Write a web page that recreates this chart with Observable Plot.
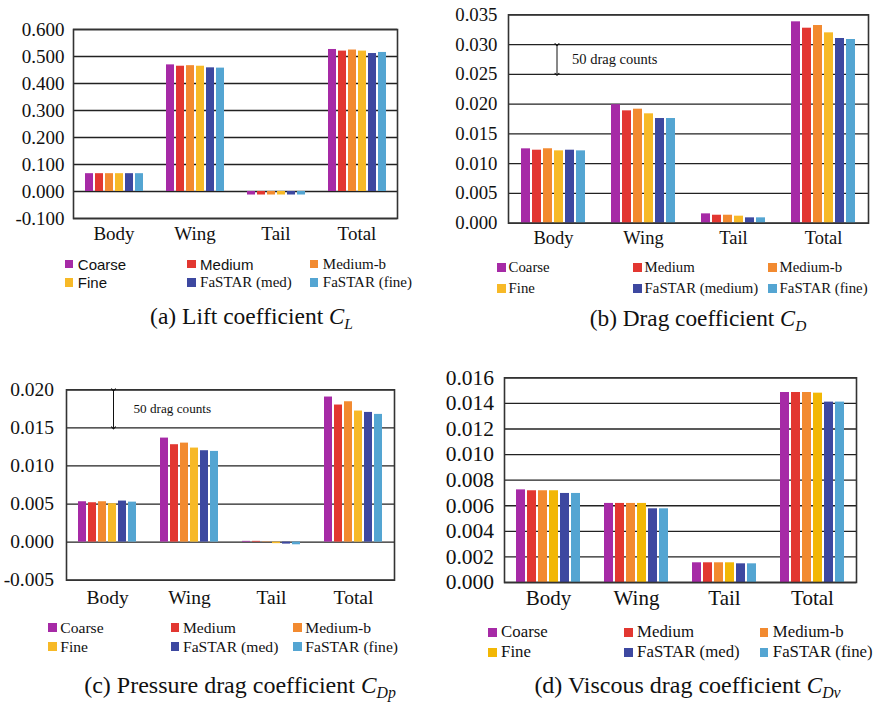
<!DOCTYPE html>
<html>
<head>
<meta charset="utf-8">
<script src="https://cdn.jsdelivr.net/npm/d3@7"></script>
<script src="https://cdn.jsdelivr.net/npm/@observablehq/plot@0.6"></script>
<style>
  html, body { margin: 0; padding: 0; background: #fff; }
  #root { position: relative; width: 880px; height: 703px; overflow: hidden; background: #fff; }
  .pnl { position: absolute; }
  .leg { position: absolute; display: flex; align-items: center; line-height: 1; white-space: nowrap; color: #111; }
  .sw { display: inline-block; width: 8.3px; height: 8.3px; flex: none; }
  .cap { position: absolute; line-height: 1; white-space: nowrap; color: #111; transform: translateX(-50%); }
  .cap i { font-style: italic; font-size: 0.97em; }
  .cap sub { font-size: 0.68em; vertical-align: -0.32em; line-height: 0; }
</style>
</head>
<body>
<div id="root"></div>
<script>
// ---------------- data ----------------
const categories = ["Body", "Wing", "Tail", "Total"];
const series = ["Coarse", "Medium", "Medium-b", "Fine", "FaSTAR (med)", "FaSTAR (fine)"];
const legendLabels = ["Coarse", "Medium", "Medium-b", "Fine", "FaSTAR (med)", "FaSTAR (fine)"];
const legendLabelsB = ["Coarse", "Medium", "Medium-b", "Fine", "FaSTAR (medium)", "FaSTAR (fine)"];
const seriesColors = ["#a62aa6", "#e23731", "#f28a30", "#f7b927", "#3d48a0", "#54a5d2"];
const seriesColorsD = ["#a62aa6", "#e23731", "#f28a30", "#f2b705", "#3d48a0", "#54a5d2"];

// rows: Body, Wing, Tail, Total ; columns: series order
const liftCL = [
  [0.066, 0.066, 0.066, 0.066, 0.066, 0.066],
  [0.469, 0.464, 0.466, 0.464, 0.458, 0.457],
  [-0.013, -0.013, -0.013, -0.013, -0.013, -0.013],
  [0.526, 0.520, 0.524, 0.520, 0.511, 0.515]
];
const dragCD = [
  [0.01249, 0.01226, 0.01250, 0.01215, 0.01226, 0.01215],
  [0.01990, 0.01887, 0.01915, 0.01837, 0.01758, 0.01758],
  [0.00157, 0.00134, 0.00134, 0.00118, 0.00090, 0.00090],
  [0.03382, 0.03275, 0.03320, 0.03197, 0.03102, 0.03085]
];
const pressureCDp = [
  [0.00530, 0.00517, 0.00530, 0.00504, 0.00539, 0.00525],
  [0.01366, 0.01279, 0.01300, 0.01235, 0.01200, 0.01191],
  [0.00010, 0.00010, -0.00005, -0.00020, -0.00026, -0.00035],
  [0.01905, 0.01800, 0.01843, 0.01721, 0.01703, 0.01677]
];
const viscousCDv = [
  [0.00724, 0.00717, 0.00717, 0.00717, 0.00696, 0.00696],
  [0.00618, 0.00618, 0.00618, 0.00618, 0.00576, 0.00576],
  [0.00154, 0.00154, 0.00154, 0.00154, 0.00146, 0.00146],
  [0.01485, 0.01485, 0.01485, 0.01480, 0.01410, 0.01410]
];

const ticksA = [-0.1, 0, 0.1, 0.2, 0.3, 0.4, 0.5, 0.6];
const ticksB = [0, 0.005, 0.01, 0.015, 0.02, 0.025, 0.03, 0.035];
const ticksC = [-0.005, 0, 0.005, 0.01, 0.015, 0.02];
const ticksD = [0, 0.002, 0.004, 0.006, 0.008, 0.01, 0.012, 0.014, 0.016];

const annotationText = "50 drag counts";
const annotB = {y1: 0.030, y2: 0.025, ty: 0.0275};
const annotC = {y1: 0.020, y2: 0.015, ty: 0.0175};

// ---------------- helpers ----------------
const SERIF = "'Liberation Serif', 'Times New Roman', serif";
const SANS = "'Liberation Sans', Arial, sans-serif";
const root = document.getElementById("root");
const fmt = d => d.toFixed(3);

function tidy(matrix) {
  const rows = [];
  categories.forEach((c, i) => series.forEach((s, j) => rows.push({category: c, series: s, value: matrix[i][j]})));
  return rows;
}

function panel(cfg) {
  const marks = [
    Plot.gridY(cfg.ticks, {stroke: "#222", strokeOpacity: 1, strokeWidth: 1.3}),
    Plot.barY(tidy(cfg.values), {fx: "category", x: "series", y: "value", fill: "series"}),
    Plot.frame({stroke: "#333", strokeWidth: 1.6, facet: "super"}),
    Plot.axisY(cfg.ticks, {tickFormat: fmt, tickSize: 0, tickPadding: cfg.tickPad, fontSize: cfg.tickFont, label: null}),
    Plot.axisFx({anchor: "bottom", tickSize: 0, tickPadding: cfg.catPad, fontSize: cfg.catFont, label: null})
  ];
  if (cfg.annot) {
    const a = [{category: "Body", series: "Fine", y1: cfg.annot.y1, y2: cfg.annot.y2, ty: cfg.annot.ty, label: annotationText}];
    marks.push(Plot.link(a, {fx: "category", x1: "series", x2: "series", y1: "y1", y2: "y2", dx: cfg.annot.linkDx, stroke: "#111", strokeWidth: 1, markerStart: "arrow", markerEnd: "arrow"}));
    marks.push(Plot.text(a, {fx: "category", x: "series", y: "ty", text: "label", textAnchor: "start", dx: cfg.annot.dx, fontSize: cfg.annot.fontSize, fill: "#111"}));
  }
  const chart = Plot.plot({
    width: cfg.w, height: cfg.h,
    marginLeft: cfg.mL, marginRight: cfg.mR, marginTop: cfg.mT, marginBottom: cfg.mB,
    style: {fontFamily: SERIF, background: "transparent", overflow: "visible", color: "#111"},
    fx: {domain: categories, padding: 0, axis: null},
    x: {domain: series, paddingInner: 0.2, paddingOuter: 0.88, axis: null},
    y: {domain: cfg.domain, axis: null},
    color: {domain: series, range: cfg.colors},
    marks
  });
  chart.classList.add("pnl");
  chart.style.left = cfg.left + "px";
  chart.style.top = cfg.top + "px";
  root.appendChild(chart);
}

function legend(cfg) {
  cfg.labels.forEach((lab, i) => {
    const row = Math.floor(i / 3), col = i % 3;
    const isSans = cfg.sans && cfg.sans.includes(i);
    const fs = cfg.font;
    const d = document.createElement("div");
    d.className = "leg";
    d.style.left = cfg.cols[col] + "px";
    d.style.top = (cfg.rows[row] - fs / 2) + "px";
    d.style.height = fs + "px";
    d.style.fontSize = fs + "px";
    d.style.fontFamily = isSans ? SANS : SERIF;
    const sw = document.createElement("span");
    sw.className = "sw";
    sw.style.background = cfg.colors[i];
    sw.style.marginRight = cfg.gap + "px";
    d.appendChild(sw);
    d.appendChild(document.createTextNode(lab));
    root.appendChild(d);
  });
}

function caption(cfg) {
  const fs = cfg.font;
  const d = document.createElement("div");
  d.className = "cap";
  d.style.fontFamily = SERIF;
  d.style.fontSize = fs + "px";
  d.style.left = cfg.cx + "px";
  d.style.top = (cfg.baseline - 0.84 * fs) + "px";
  d.innerHTML = cfg.html;
  root.appendChild(d);
}

// ---------------- panels ----------------
panel({values: liftCL, ticks: ticksA, domain: [-0.1, 0.6], colors: seriesColors,
  left: 0, top: 0, w: 440, h: 250, mL: 73, mR: 43, mT: 29, mB: 32,
  tickFont: 19, tickPad: 9, catFont: 19, catPad: 8});
panel({values: dragCD, ticks: ticksB, domain: [0, 0.035], colors: seriesColors,
  left: 440, top: 0, w: 440, h: 250, mL: 66, mR: 11, mT: 14.3, mB: 27.3,
  tickFont: 18.8, tickPad: 11, catFont: 18.5, catPad: 8,
  annot: {...annotB, dx: 13, linkDx: -2, fontSize: 14.5}});
panel({values: pressureCDp, ticks: ticksC, domain: [-0.005, 0.02], colors: seriesColors,
  left: 0, top: 340, w: 440, h: 270, mL: 66, mR: 46, mT: 49.3, mB: 30.3,
  tickFont: 19.5, tickPad: 12.5, catFont: 19.5, catPad: 10,
  annot: {...annotC, dx: 21, linkDx: 1, fontSize: 13.2}});
panel({values: viscousCDv, ticks: ticksD, domain: [0, 0.016], colors: seriesColorsD,
  left: 440, top: 340, w: 440, h: 270, mL: 64, mR: 23.3, mT: 37.3, mB: 28,
  tickFont: 21.5, tickPad: 10.5, catFont: 21, catPad: 7.5});

// ---------------- legends ----------------
legend({labels: legendLabels, colors: seriesColors, rows: [264.2, 282.5], cols: [65, 187.3, 310], font: 15, gap: 4.5, sans: [0, 1, 3]});
legend({labels: legendLabelsB, colors: seriesColors, rows: [267.5, 288.5], cols: [497.3, 633.3, 768.3], font: 14.8, gap: 3});
legend({labels: legendLabels, colors: seriesColors, rows: [627.5, 646.5], cols: [48.3, 171, 293.3], font: 15.6, gap: 3.7});
legend({labels: legendLabels, colors: seriesColorsD, rows: [632.5, 652.5], cols: [488.3, 624.3, 760], font: 16.8, gap: 4.5});

// ---------------- captions ----------------
caption({html: "(a) Lift coefficient <i>C</i><sub><i>L</i></sub>", cx: 251.5, baseline: 325, font: 23.5});
caption({html: "(b) Drag coefficient <i>C</i><sub><i>D</i></sub>", cx: 698, baseline: 326.7, font: 23.3});
caption({html: "(c) Pressure drag coefficient <i>C</i><sub><i>Dp</i></sub>", cx: 240, baseline: 693, font: 24});
caption({html: "(d) Viscous drag coefficient <i>C</i><sub><i>Dv</i></sub>", cx: 687.5, baseline: 693, font: 24});
</script>
</body>
</html>
